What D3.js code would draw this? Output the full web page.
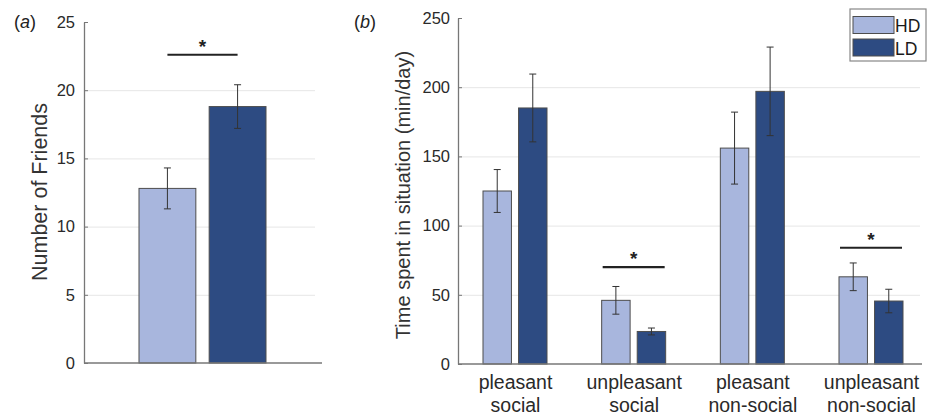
<!DOCTYPE html>
<html>
<head>
<meta charset="utf-8">
<script src="https://cdn.jsdelivr.net/npm/d3@7"></script>
<style>
  body { margin: 0; background: #fff; }
  svg { display: block; font-family: "Liberation Sans", Arial, sans-serif; }
</style>
</head>
<body>
<div id="chart"></div>
<script>
// panel (a): number of friends
const groups = ["HD", "LD"];
const friendMeans = [12.8, 18.8];
const friendSem = [1.5, 1.6];
const friendTicks = [0, 5, 10, 15, 20, 25];
const friendSig = 22.6;

// panel (b): time spent in situation
const situations = ["pleasant social", "unpleasant social", "pleasant non-social", "unpleasant non-social"];
const hdMeans = [125, 46, 156, 63];
const hdSem = [15.5, 10, 26, 10];
const ldMeans = [185, 23.5, 197, 45.5];
const ldSem = [24.5, 2.5, 32, 8.5];
const timeTicks = [0, 50, 100, 150, 200, 250];
const timeSig = [null, 70, null, 84];

const colors = { HD: "#a8b6dd", LD: "#2d4b82" };
const outline = "#4d4d4d";

const svg = d3.select("#chart").append("svg")
    .attr("width", 933)
    .attr("height", 417);

svg.append("rect").attr("width", 933).attr("height", 417).attr("fill", "#fff");

const styleAxis = (g) => {
    g.select(".domain").attr("stroke", "#777").attr("stroke-width", 1.3);
    g.selectAll(".tick line").attr("stroke", "#777");
    g.selectAll(".tick text").attr("fill", "#2a2a2a").attr("font-size", 16.5);
};

const drawGrid = (yScale, ticks, x0, x1) => {
    svg.append("g")
        .attr("transform", `translate(${x0},0)`)
        .call(d3.axisLeft(yScale).tickValues(ticks).tickSize(-(x1 - x0)).tickFormat(""))
        .call(g => g.select(".domain").remove())
        .call(g => g.selectAll(".tick line").attr("stroke", "#e6e6e6"));
};

const errorBar = (cx, lo, hi) => {
    const g = svg.append("g").attr("stroke", "#333").attr("stroke-width", 1);
    g.append("line").attr("x1", cx).attr("x2", cx).attr("y1", lo).attr("y2", hi);
    g.append("line").attr("x1", cx - 3.5).attr("x2", cx + 3.5).attr("y1", lo).attr("y2", lo);
    g.append("line").attr("x1", cx - 3.5).attr("x2", cx + 3.5).attr("y1", hi).attr("y2", hi);
};

const sigMark = (x1, x2, y) => {
    svg.append("line")
        .attr("x1", x1).attr("x2", x2).attr("y1", y).attr("y2", y)
        .attr("stroke", "#222").attr("stroke-width", 2.2);
    svg.append("text")
        .attr("x", (x1 + x2) / 2).attr("y", y - 2)
        .attr("text-anchor", "middle")
        .attr("font-size", 19).attr("font-weight", "bold").attr("fill", "#222")
        .text("*");
};

// ---------- panel (a) ----------
const yA = d3.scaleLinear().domain([0, 25]).range([363, 22]);
const xA = d3.scaleBand().domain(groups).range([139, 266]).paddingInner(0.19);

drawGrid(yA, [5, 10, 15, 20], 84, 315);

svg.selectAll(".barA")
    .data(groups)
    .enter()
    .append("rect")
    .attr("class", "barA")
    .attr("x", d => xA(d))
    .attr("width", xA.bandwidth())
    .attr("y", (d, i) => yA(friendMeans[i]))
    .attr("height", (d, i) => yA(0) - yA(friendMeans[i]))
    .attr("fill", d => colors[d])
    .attr("stroke", outline)
    .attr("stroke-width", 1);

groups.forEach((d, i) => {
    const cx = xA(d) + xA.bandwidth() / 2;
    errorBar(cx, yA(friendMeans[i] - friendSem[i]), yA(friendMeans[i] + friendSem[i]));
});

svg.append("g")
    .attr("transform", "translate(84,0)")
    .call(d3.axisLeft(yA).tickValues(friendTicks).tickSizeInner(-4).tickSizeOuter(0).tickPadding(9))
    .call(styleAxis);

svg.append("line")
    .attr("x1", 84).attr("x2", 322).attr("y1", yA(0)).attr("y2", yA(0))
    .attr("stroke", "#777").attr("stroke-width", 1.3);

sigMark(xA("HD") + xA.bandwidth() / 2, xA("LD") + xA.bandwidth() / 2, yA(friendSig));

svg.append("text")
    .attr("transform", "translate(47,192) rotate(-90)")
    .attr("text-anchor", "middle")
    .attr("font-size", 21.5).attr("fill", "#333")
    .text("Number of Friends");

svg.append("text")
    .attr("x", 14).attr("y", 28)
    .attr("font-size", 18).attr("fill", "#222")
    .html('(<tspan font-style="italic">a</tspan>)');

// ---------- panel (b) ----------
const yB = d3.scaleLinear().domain([0, 250]).range([364, 18]);
const xB = d3.scalePoint().domain(situations).range([515, 871]);
const xSub = d3.scaleBand().domain(groups).range([-32, 32]).paddingInner(0.2);

drawGrid(yB, [50, 100, 150, 200], 458, 920);

const series = [
    { key: "HD", means: hdMeans, sem: hdSem },
    { key: "LD", means: ldMeans, sem: ldSem }
];

series.forEach(s => {
    svg.selectAll(".bar" + s.key)
        .data(situations)
        .enter()
        .append("rect")
        .attr("x", d => xB(d) + xSub(s.key))
        .attr("width", xSub.bandwidth())
        .attr("y", (d, i) => yB(s.means[i]))
        .attr("height", (d, i) => yB(0) - yB(s.means[i]))
        .attr("fill", colors[s.key])
        .attr("stroke", outline)
        .attr("stroke-width", 1);
});

series.forEach(s => {
    situations.forEach((d, i) => {
        const cx = xB(d) + xSub(s.key) + xSub.bandwidth() / 2;
        errorBar(cx, yB(s.means[i] - s.sem[i]), yB(s.means[i] + s.sem[i]));
    });
});

svg.append("g")
    .attr("transform", "translate(458,0)")
    .call(d3.axisLeft(yB).tickValues(timeTicks).tickSizeInner(-4).tickSizeOuter(0).tickPadding(8))
    .call(styleAxis);

svg.append("line")
    .attr("x1", 458).attr("x2", 922).attr("y1", yB(0)).attr("y2", yB(0))
    .attr("stroke", "#777").attr("stroke-width", 1.3);

// two-line category labels
const xAxisB = svg.append("g")
    .attr("transform", `translate(0,${yB(0)})`)
    .call(d3.axisBottom(xB).tickSize(0).tickFormat(""));
xAxisB.select(".domain").remove();
xAxisB.selectAll(".tick").append("text")
    .attr("text-anchor", "middle")
    .attr("fill", "#2a2a2a")
    .attr("font-size", 19.5)
    .each(function (d) {
        const parts = d.split(" ");
        const t = d3.select(this);
        t.append("tspan").attr("x", 0).attr("y", 25).text(parts[0]);
        t.append("tspan").attr("x", 0).attr("y", 48).text(parts[1]);
    });

situations.forEach((d, i) => {
    if (timeSig[i] != null) {
        sigMark(xB(d) - 31, xB(d) + 31, yB(timeSig[i]));
    }
});

svg.append("text")
    .attr("transform", "translate(410,195) rotate(-90)")
    .attr("text-anchor", "middle")
    .attr("font-size", 20).attr("fill", "#333")
    .text("Time spent in situation (min/day)");

svg.append("text")
    .attr("x", 354).attr("y", 28)
    .attr("font-size", 18).attr("fill", "#222")
    .html('(<tspan font-style="italic">b</tspan>)');

// legend
const legend = svg.append("g");
legend.append("rect")
    .attr("x", 850).attr("y", 9).attr("width", 76).attr("height", 52)
    .attr("fill", "#fff").attr("stroke", "#888").attr("stroke-width", 1.2);
const items = legend.selectAll(".item")
    .data(groups)
    .enter()
    .append("g")
    .attr("transform", (d, i) => `translate(0,${16.5 + i * 22.5})`);
items.append("rect")
    .attr("x", 853).attr("width", 41).attr("height", 17)
    .attr("fill", d => colors[d])
    .attr("stroke", outline).attr("stroke-width", 1);
items.append("text")
    .attr("x", 895).attr("y", 15.5)
    .attr("font-size", 17.5).attr("fill", "#1a1a1a")
    .text(d => d);
</script>
</body>
</html>
